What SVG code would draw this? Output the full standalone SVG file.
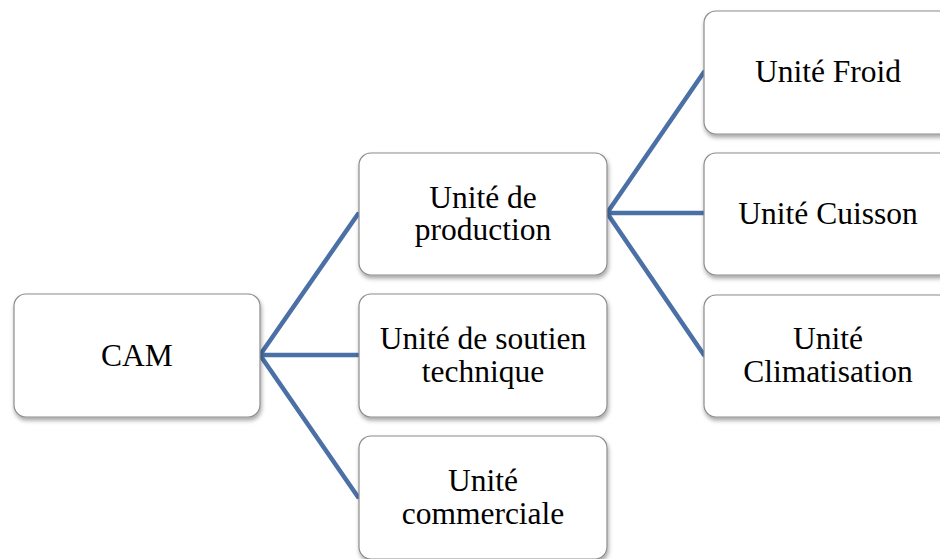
<svg xmlns="http://www.w3.org/2000/svg" width="940" height="559" viewBox="0 0 940 559">
<style>
.box{fill:#fff;stroke:#8c8c8c;stroke-width:1.2;filter:url(#sh)}
.t{font-family:"Liberation Serif","Times New Roman",serif;font-size:31.5px;fill:#000;text-anchor:middle}
.c{stroke:#4a70a6;stroke-width:4.5;fill:none;stroke-linecap:round}
</style>
<defs>
<filter id="sh" x="-10%" y="-10%" width="125%" height="130%">
<feDropShadow dx="1" dy="3" stdDeviation="2.2" flood-color="#000" flood-opacity="0.35"/>
</filter>
</defs>
<rect width="940" height="559" fill="#fff"/>
<g id="connectors">
<path class="c" d="M260 355 L358 214 M260 355 L358 355 M260 355 L358 497"/>
<path class="c" d="M607 213 L704 72 M607 213 L704 213 M607 213 L704 355"/>
</g>
<g id="cam"><rect class="box" x="14" y="294" width="246" height="123" rx="12"/><text class="t" x="137" y="366">CAM</text></g>
<g id="production"><rect class="box" x="359" y="153" width="248" height="122" rx="12"/><text class="t" x="483" y="208">Unité de</text><text class="t" x="483" y="240">production</text></g>
<g id="soutien"><rect class="box" x="359" y="294" width="248" height="123" rx="12"/><text class="t" x="483" y="349">Unité de soutien</text><text class="t" x="483" y="382">technique</text></g>
<g id="commerciale"><rect class="box" x="359" y="436" width="248" height="123" rx="12"/><text class="t" x="483" y="491">Unité</text><text class="t" x="483" y="524">commerciale</text></g>
<g id="froid"><rect class="box" x="704" y="11" width="248" height="123" rx="12"/><text class="t" x="828" y="82">Unité Froid</text></g>
<g id="cuisson"><rect class="box" x="704" y="153" width="248" height="122" rx="12"/><text class="t" x="828" y="224">Unité Cuisson</text></g>
<g id="climatisation"><rect class="box" x="704" y="295" width="248" height="122" rx="12"/><text class="t" x="828" y="349">Unité</text><text class="t" x="828" y="382">Climatisation</text></g>
</svg>
